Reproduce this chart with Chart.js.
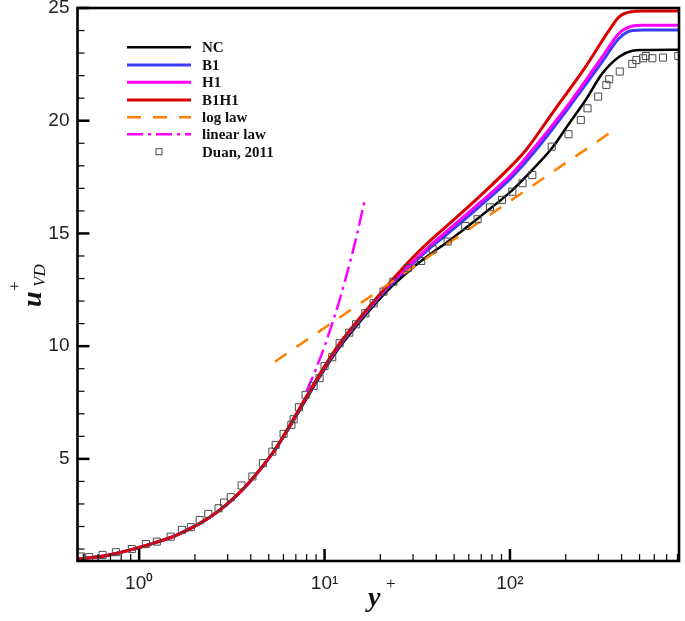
<!DOCTYPE html>
<html><head><meta charset="utf-8">
<script src="https://cdn.jsdelivr.net/npm/chart.js@4/dist/chart.umd.min.js"></script>
<style>html,body{margin:0;padding:0;background:#fff;}#wrap{width:685px;height:621px;}</style>
</head><body><div id="wrap"><canvas id="c" width="685" height="621"></canvas></div>
<script>
// ---------- data ----------
const seriesNames = ['NC', 'B1', 'H1', 'B1H1', 'log law', 'linear law', 'Duan, 2011'];

const ncYp = [0.46,0.69,1.0,1.28,1.58,1.94,2.38,2.93,3.6,4.43,5.45,6.48,7.97,9.79,12.05,14.8,18.2,22.4,29.9,37,45.2,68.4,103,144,169,209,256,315,388,457,520,816];
const ncU  = [0.55,0.74,1.06,1.33,1.6,1.95,2.38,2.93,3.6,4.45,5.42,6.4,7.65,8.85,9.95,10.88,11.75,12.55,13.48,14.07,14.58,15.72,16.92,18.15,18.8,19.89,20.92,22.1,22.84,23.1,23.14,23.15];

const b1Yp = [0.46,0.69,1.0,1.28,1.58,1.94,2.38,2.93,3.6,4.43,5.45,6.48,7.97,9.79,12.05,14.8,18.2,22.4,29.9,37,45.2,68.4,103,138,209,315,388,457,520,816];
const b1U  = [0.55,0.74,1.07,1.34,1.61,1.96,2.39,2.94,3.62,4.47,5.45,6.45,7.72,8.93,10.05,10.98,11.85,12.67,13.66,14.35,14.93,16.19,17.52,18.7,20.62,22.62,23.66,24.0,24.02,24.02];

const h1Yp = [0.46,0.69,1.0,1.28,1.58,1.94,2.38,2.93,3.6,4.43,5.45,6.48,7.97,9.79,12.05,14.8,18.2,22.4,29.9,37,45.2,68.4,103,132,209,315,388,457,520,816];
const h1U  = [0.55,0.74,1.07,1.34,1.61,1.96,2.39,2.94,3.62,4.47,5.45,6.46,7.73,8.95,10.08,11.01,11.88,12.72,13.74,14.45,15.07,16.34,17.67,18.7,20.77,22.84,23.88,24.2,24.24,24.24];

const b1h1Yp = [0.46,0.69,1.0,1.28,1.58,1.94,2.38,2.93,3.6,4.43,5.45,6.48,7.97,9.79,12.05,14.8,18.2,22.4,29.9,37,45.2,68.4,103,122,169,256,343,388,457,520,816];
const b1h1U  = [0.55,0.74,1.07,1.34,1.61,1.96,2.39,2.95,3.63,4.48,5.46,6.47,7.75,8.98,10.12,11.05,11.93,12.8,13.93,14.67,15.3,16.63,18.04,18.7,20.33,22.4,24.02,24.61,24.84,24.87,24.87];

const logLawYp = [5.4, 340];
const logLawU  = [9.31, 19.42];

const linLawYp = [8, 9, 10, 11, 12, 13, 14, 15, 16.6];
const linLawU  = [8, 9, 10, 11, 12, 13, 14, 15, 16.6];

const duanYp = [0.485,0.538,0.635,0.749,0.913,1.087,1.245,1.48,1.70,1.90,2.12,2.36,2.68,2.87,3.12,3.57,4.08,4.65,5.23,5.45,6.01,6.62,6.81,7.27,7.90,8.73,9.40,10.0,11.0,12.05,13.6,14.8,16.6,18.4,20.8,23.5,28.1,33.2,38.3,46.1,57.4,66.9,78.0,90.6,103,117,132,168,207,241,262,299,331,343,391,457,481,522,540,586,669,809];
const duanU  = [0.67,0.64,0.74,0.86,1.0,1.22,1.33,1.55,1.85,1.97,2.29,2.56,2.81,3.06,3.30,3.82,4.22,4.81,5.32,5.62,6.11,6.51,6.76,7.29,7.84,8.24,8.58,9.12,9.51,10.13,10.60,10.97,11.46,11.90,12.42,12.86,13.46,13.78,14.30,14.64,15.33,15.63,16.16,16.49,16.85,17.23,17.59,18.85,19.40,20.03,20.55,21.07,21.59,21.84,22.18,22.52,22.69,22.77,22.87,22.77,22.80,22.87];

const xTickValues = [1, 10, 100];
const xTickLabels = ['10\u2070', '10\u00b9', '10\u00b2'];
const xMinorTicks = [0.5,0.6,0.7,0.8,0.9,2,3,4,5,6,7,8,9,20,30,40,50,60,70,80,90,200,300,400,500,600,700,800];
const yTickValues = [5, 10, 15, 20, 25];
const yMinorTicks = [1,2,3,4,6,7,8,9,11,12,13,14,16,17,18,19,21,22,23,24];

const pts = (xs, ys) => xs.map((v, i) => ({x: v, y: ys[i]}));

// ---------- plugins ----------
const frameTicks = {
  id: 'frameTicks',
  afterDatasetsDraw(chart) {
    const {ctx, chartArea: a, scales: {x, y}} = chart;
    ctx.save();
    ctx.strokeStyle = '#000';
    const seg = (x1, y1, x2, y2, w) => { ctx.lineWidth = w; ctx.beginPath(); ctx.moveTo(x1, y1); ctx.lineTo(x2, y2); ctx.stroke(); };
    xTickValues.forEach(v => { const p = x.getPixelForValue(v); seg(p, a.bottom, p, a.bottom - 12, 2.5); });
    xMinorTicks.forEach(v => { const p = x.getPixelForValue(v); seg(p, a.bottom, p, a.bottom - 7, 1.2); });
    yTickValues.forEach(v => { const p = y.getPixelForValue(v); seg(a.left, p, a.left + 12, p, 2.5); });
    yMinorTicks.forEach(v => { const p = y.getPixelForValue(v); seg(a.left, p, a.left + 7, p, 1.2); });
    ctx.lineWidth = 2.6;
    ctx.strokeRect(a.left, a.top, a.right - a.left, a.bottom - a.top);
    ctx.restore();
  }
};

const customText = {
  id: 'customText',
  afterDraw(chart) {
    const ctx = chart.ctx;
    ctx.save();
    // legend
    const rows = [47.3, 65, 82.3, 100, 117.3, 134.3, 151.7];
    chart.data.datasets.forEach((ds, i) => {
      const yy = rows[i];
      if (ds.showLine === false) {
        ctx.lineWidth = 1; ctx.strokeStyle = ds.pointBorderColor;
        ctx.strokeRect(156, yy - 3, 6, 6);
      } else {
        ctx.strokeStyle = ds.borderColor; ctx.lineWidth = ds.borderWidth;
        ctx.setLineDash(ds.borderDash || []);
        ctx.beginPath(); ctx.moveTo(127, yy); ctx.lineTo(191, yy); ctx.stroke();
        ctx.setLineDash([]);
      }
      ctx.fillStyle = '#111';
      ctx.font = 'bold 15px "Liberation Serif"';
      ctx.textBaseline = 'middle'; ctx.textAlign = 'left';
      ctx.fillText(ds.label, 202, yy + 1);
    });
    // x title  y+
    ctx.fillStyle = '#111';
    ctx.textBaseline = 'alphabetic';
    ctx.font = 'bold italic 28px "Liberation Serif"';
    ctx.fillText('y', 368, 606);
    ctx.font = '17px "Liberation Serif"';
    ctx.fillText('+', 386, 589);
    // y title  u+_VD
    ctx.translate(41, 307);
    ctx.rotate(-Math.PI / 2);
    ctx.font = 'bold italic 28px "Liberation Serif"';
    ctx.fillText('u', 0, 0);
    ctx.font = '17px "Liberation Serif"';
    ctx.fillText('+', 16, -21);
    ctx.font = 'italic 17px "Liberation Serif"';
    ctx.fillText('VD', 20, 4);
    ctx.restore();
  }
};

// ---------- chart ----------
const lineDs = (label, data, color, width, order, dash) => ({
  label, data, borderColor: color, backgroundColor: color, borderWidth: width,
  borderDash: dash || [], pointRadius: 0, fill: false, cubicInterpolationMode: 'monotone', order
});

new Chart(document.getElementById('c'), {
  type: 'line',
  data: {
    datasets: [
      lineDs(seriesNames[0], pts(ncYp, ncU), '#000000', 2.5, 6),
      lineDs(seriesNames[1], pts(b1Yp, b1U), '#3c3cff', 3, 5),
      lineDs(seriesNames[2], pts(h1Yp, h1U), '#ff00ff', 3, 4),
      lineDs(seriesNames[3], pts(b1h1Yp, b1h1U), '#d80000', 3, 3),
      lineDs(seriesNames[4], pts(logLawYp, logLawU), '#ff8000', 2.5, 2, [14, 12]),
      lineDs(seriesNames[5], pts(linLawYp, linLawU), '#ff00ff', 2.5, 1, [16, 5, 3, 5]),
      {
        label: seriesNames[6], data: pts(duanYp, duanU), showLine: false,
        pointStyle: 'rect', pointRadius: 5, pointBorderWidth: 1,
        pointBorderColor: '#4a4a4a', pointBackgroundColor: 'rgba(0,0,0,0)', order: 0
      }
    ]
  },
  options: {
    responsive: false, animation: false, devicePixelRatio: 1,
    layout: {padding: {left: 0, right: 5, top: 8, bottom: 0}},
    plugins: {legend: {display: false}, tooltip: {enabled: false}},
    scales: {
      x: {
        type: 'logarithmic', min: 0.465, max: 816,
        grid: {display: false, drawTicks: false}, border: {display: false},
        afterBuildTicks: s => { s.ticks = xTickValues.map(v => ({value: v})); },
        afterFit: s => { s.height = 60; s.paddingLeft = 0; s.paddingRight = 0; },
        ticks: {
          autoSkip: false, maxRotation: 0, padding: 11, color: '#222',
          font: {family: '"Liberation Sans"', size: 19},
          callback: v => { const i = xTickValues.indexOf(v); return i >= 0 ? xTickLabels[i] : ''; }
        }
      },
      y: {
        type: 'linear', min: 0.47, max: 25,
        grid: {display: false, drawTicks: false}, border: {display: false},
        afterBuildTicks: s => { s.ticks = yTickValues.map(v => ({value: v})); },
        afterFit: s => { s.width = 77.5; s.paddingTop = 0; s.paddingBottom = 0; },
        ticks: {
          padding: 8, color: '#222',
          font: {family: '"Liberation Sans"', size: 19}
        }
      }
    }
  },
  plugins: [frameTicks, customText]
});
</script>
</body></html>
